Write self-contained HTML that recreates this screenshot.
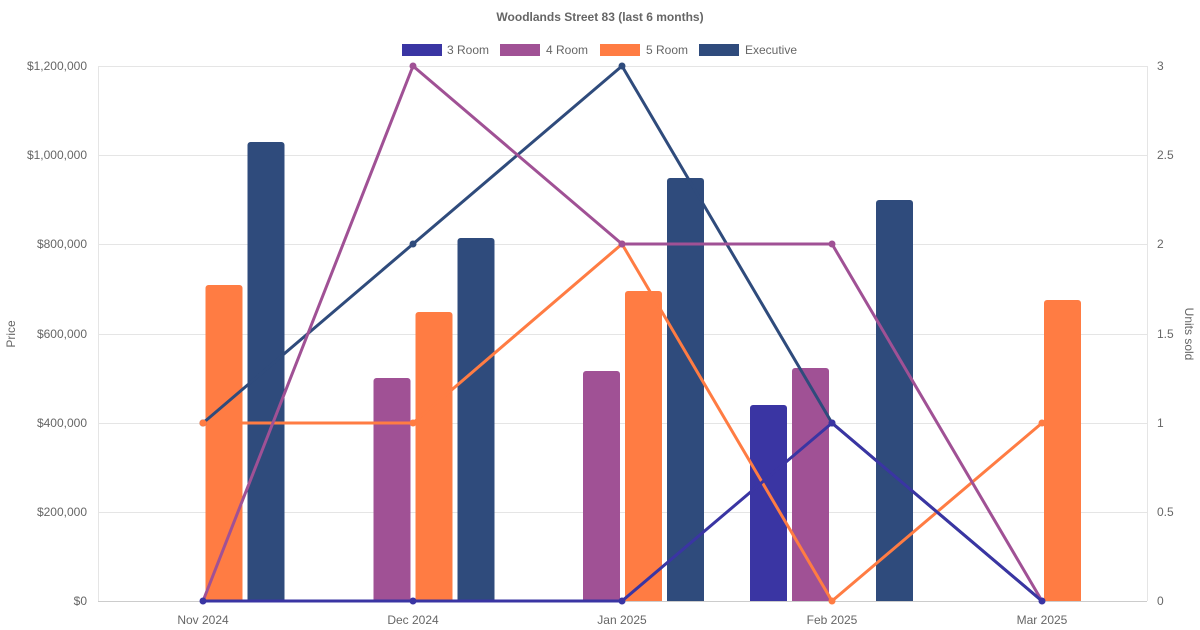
<!DOCTYPE html>
<html><head><meta charset="utf-8"><style>
html,body{margin:0;padding:0;background:#fff;}
svg{display:block;font-family:"Liberation Sans",Arial,sans-serif;}
</style></head><body>
<svg width="1200" height="630" viewBox="0 0 1200 630" xmlns="http://www.w3.org/2000/svg">
<rect width="1200" height="630" fill="#fff"/>
<text x="600" y="21" text-anchor="middle" font-size="12" font-weight="bold" fill="#666">Woodlands Street 83 (last 6 months)</text>
<!-- legend -->
<g font-size="12" fill="#666">
<rect x="402" y="44" width="40" height="12" fill="#3a35a3"/><text x="447" y="54">3 Room</text>
<rect x="500" y="44" width="40" height="12" fill="#a05195"/><text x="546" y="54">4 Room</text>
<rect x="600" y="44" width="40" height="12" fill="#ff7c43"/><text x="646" y="54">5 Room</text>
<rect x="699" y="44" width="40" height="12" fill="#2f4b7c"/><text x="745" y="54">Executive</text>
</g>
<!-- grid -->
<g stroke="#e5e5e5" stroke-width="1">
<line x1="98" y1="66.5" x2="1147" y2="66.5"/>
<line x1="98" y1="155.5" x2="1147" y2="155.5"/>
<line x1="98" y1="244.5" x2="1147" y2="244.5"/>
<line x1="98" y1="334.5" x2="1147" y2="334.5"/>
<line x1="98" y1="423.5" x2="1147" y2="423.5"/>
<line x1="98" y1="512.5" x2="1147" y2="512.5"/>
<line x1="98.5" y1="66" x2="98.5" y2="601"/>
<line x1="1147.5" y1="66" x2="1147.5" y2="601"/>
</g>
<line x1="98" y1="601.5" x2="1147" y2="601.5" stroke="#ccc"/>
<!-- left ticks -->
<g font-size="12" fill="#666" text-anchor="end">
<text x="87" y="70">$1,200,000</text>
<text x="87" y="159">$1,000,000</text>
<text x="87" y="248">$800,000</text>
<text x="87" y="338">$600,000</text>
<text x="87" y="427">$400,000</text>
<text x="87" y="516">$200,000</text>
<text x="87" y="605">$0</text>
</g>
<g font-size="12" fill="#666">
<text x="1157" y="70">3</text>
<text x="1157" y="159">2.5</text>
<text x="1157" y="248">2</text>
<text x="1157" y="338">1.5</text>
<text x="1157" y="427">1</text>
<text x="1157" y="516">0.5</text>
<text x="1157" y="605">0</text>
</g>
<text transform="translate(15,334) rotate(-90)" text-anchor="middle" font-size="12" fill="#666">Price</text>
<text transform="translate(1185,334) rotate(90)" text-anchor="middle" font-size="12" fill="#666">Units sold</text>
<g font-size="12" fill="#666" text-anchor="middle">
<text x="203" y="624">Nov 2024</text>
<text x="413" y="624">Dec 2024</text>
<text x="622" y="624">Jan 2025</text>
<text x="832" y="624">Feb 2025</text>
<text x="1042" y="624">Mar 2025</text>
</g>
<!-- bars -->
<g>
<path d="M205.5,601V288a3,3 0 0 1 3,-3h31a3,3 0 0 1 3,3V601Z" fill="#ff7c43"/>
<path d="M247.5,601V145a3,3 0 0 1 3,-3h31a3,3 0 0 1 3,3V601Z" fill="#2f4b7c"/>
<path d="M373.5,601V381a3,3 0 0 1 3,-3h31a3,3 0 0 1 3,3V601Z" fill="#a05195"/>
<path d="M415.5,601V315a3,3 0 0 1 3,-3h31a3,3 0 0 1 3,3V601Z" fill="#ff7c43"/>
<path d="M457.5,601V241a3,3 0 0 1 3,-3h31a3,3 0 0 1 3,3V601Z" fill="#2f4b7c"/>
<path d="M583,601V374a3,3 0 0 1 3,-3h31a3,3 0 0 1 3,3V601Z" fill="#a05195"/>
<path d="M625,601V294a3,3 0 0 1 3,-3h31a3,3 0 0 1 3,3V601Z" fill="#ff7c43"/>
<path d="M667,601V181a3,3 0 0 1 3,-3h31a3,3 0 0 1 3,3V601Z" fill="#2f4b7c"/>
<path d="M750,601V408a3,3 0 0 1 3,-3h31a3,3 0 0 1 3,3V601Z" fill="#3a35a3"/>
<path d="M792,601V371a3,3 0 0 1 3,-3h31a3,3 0 0 1 3,3V601Z" fill="#a05195"/>
<path d="M876,601V203a3,3 0 0 1 3,-3h31a3,3 0 0 1 3,3V601Z" fill="#2f4b7c"/>
<path d="M1044,601V303a3,3 0 0 1 3,-3h31a3,3 0 0 1 3,3V601Z" fill="#ff7c43"/>
</g>
<!-- lines -->
<g fill="none" stroke-width="3" stroke-linejoin="round">
<polyline points="203,423 413,244 622,66 832,423 1042,601" stroke="#2f4b7c"/>
<polyline points="203,423 413,423 622,244 832,601 1042,423" stroke="#ff7c43"/>
<polyline points="203,601 413,66 622,244 832,244 1042,601" stroke="#a05195"/>
<polyline points="203,601 413,601 622,601 832,423 1042,601" stroke="#3a35a3"/>
</g>
<g>
<circle cx="203" cy="423" r="3.5" fill="#2f4b7c"/><circle cx="413" cy="244" r="3.5" fill="#2f4b7c"/><circle cx="622" cy="66" r="3.5" fill="#2f4b7c"/><circle cx="832" cy="423" r="3.5" fill="#2f4b7c"/>
<circle cx="203" cy="423" r="3.5" fill="#ff7c43"/><circle cx="413" cy="423" r="3.5" fill="#ff7c43"/><circle cx="622" cy="244" r="3.5" fill="#ff7c43"/><circle cx="832" cy="601" r="3.5" fill="#ff7c43"/><circle cx="1042" cy="423" r="3.5" fill="#ff7c43"/>
<circle cx="413" cy="66" r="3.5" fill="#a05195"/><circle cx="622" cy="244" r="3.5" fill="#a05195"/><circle cx="832" cy="244" r="3.5" fill="#a05195"/>
<circle cx="203" cy="601" r="3.5" fill="#3a35a3"/><circle cx="413" cy="601" r="3.5" fill="#3a35a3"/><circle cx="622" cy="601" r="3.5" fill="#3a35a3"/><circle cx="832" cy="423" r="3.5" fill="#3a35a3"/><circle cx="1042" cy="601" r="3.5" fill="#3a35a3"/>
</g>
</svg>
</body></html>
